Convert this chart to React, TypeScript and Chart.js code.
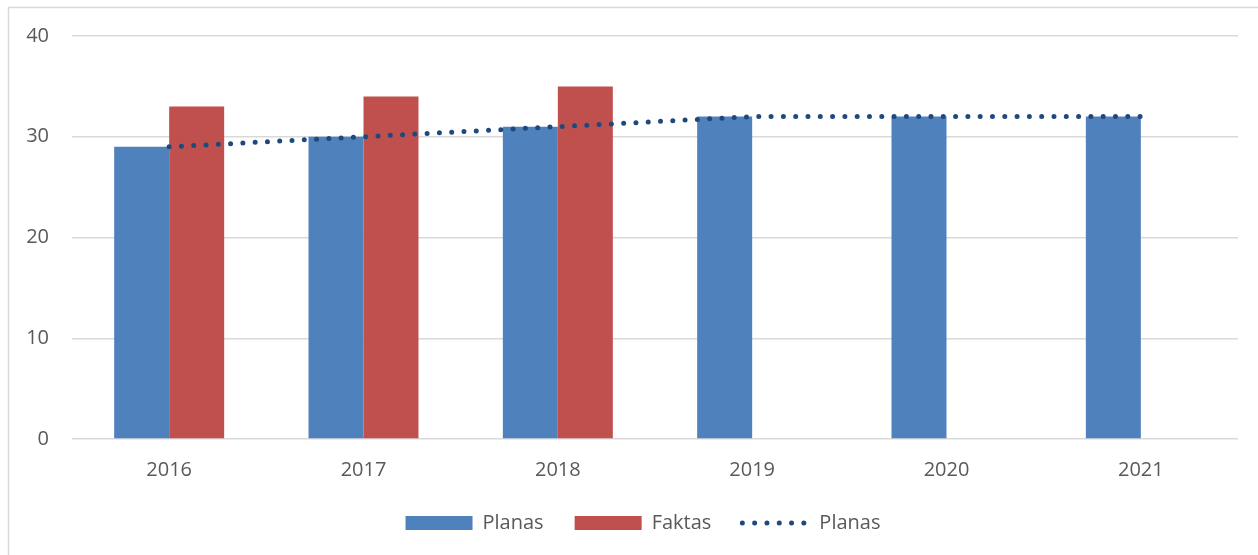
import React, { useEffect, useRef } from "react";
import { Chart, registerables } from "chart.js";

Chart.register(...registerables);

const categories = ["2016", "2017", "2018", "2019", "2020", "2021"];
const planasValues = [29, 30, 31, 32, 32, 32];
const faktasValues = [33, 34, 35, null, null, null];
const planasLineValues = [29, 30, 31, 32, 32, 32];
const yTicks = [0, 10, 20, 30, 40];

const FONT = "'Open Sans', Lato, sans-serif";
const TEXT = "#595959";

const borderPlugin = {
  id: "outerBorder",
  beforeDraw(chart: any) {
    const ctx = chart.ctx;
    ctx.save();
    ctx.fillStyle = "#ffffff";
    ctx.fillRect(0, 0, chart.width, chart.height);
    ctx.strokeStyle = "#D9D9D9";
    ctx.lineWidth = 1.5;
    ctx.beginPath();
    ctx.moveTo(chart.width, 7.5);
    ctx.lineTo(8.5, 7.5);
    ctx.lineTo(8.5, chart.height);
    ctx.stroke();
    ctx.restore();
  },
  afterLayout(chart: any) {
    if (chart.legend) {
      chart.legend.left += 24;
      chart.legend.right += 24;
    }
  },
};

export default function App() {
  const ref = useRef<HTMLCanvasElement | null>(null);
  useEffect(() => {
    if (!ref.current) return;
    const chart = new Chart(ref.current, {
      type: "bar",
      data: {
        labels: categories,
        datasets: [
          {
            type: "bar",
            label: "Planas",
            data: planasValues,
            backgroundColor: "#4F81BD",
            borderWidth: 0,
            order: 1,
          },
          {
            type: "bar",
            label: "Faktas",
            data: faktasValues as any,
            backgroundColor: "#C0504D",
            borderWidth: 0,
            order: 1,
          },
          {
            type: "line",
            label: "Planas",
            data: planasLineValues,
            borderColor: "#1F497D",
            backgroundColor: "#1F497D",
            borderWidth: 5,
            borderDash: [0, 12.3],
            borderCapStyle: "round",
            pointRadius: 0,
            fill: false,
            tension: 0,
            order: 0,
          } as any,
        ],
      },
      options: {
        responsive: false,
        animation: false,
        layout: { padding: { left: 0, right: 20, top: 36, bottom: 12 } },
        datasets: {
          bar: { barPercentage: 1, categoryPercentage: 0.566 },
        } as any,
        scales: {
          x: {
            grid: { display: false },
            border: { display: false },
            ticks: { color: TEXT, font: { family: FONT, size: 20 }, padding: 11 },
            afterFit: (scale: any) => {
              scale.height = 43;
            },
          },
          y: {
            min: 0,
            max: 40,
            afterBuildTicks: (scale: any) => {
              scale.ticks = yTicks.map((v) => ({ value: v }));
            },
            afterFit: (scale: any) => {
              scale.width = 72;
            },
            grid: { color: "#D9D9D9", lineWidth: 1.5, drawTicks: false },
            border: { display: false },
            ticks: { color: TEXT, font: { family: FONT, size: 20 }, padding: 23 },
          },
        },
        plugins: {
          tooltip: { enabled: false },
          legend: {
            position: "bottom",
            labels: {
              color: TEXT,
              font: { family: FONT, size: 20 },
              usePointStyle: true,
              pointStyleWidth: 67,
              boxHeight: 14,
              padding: 31,
              sort: (a: any, b: any) => a.datasetIndex - b.datasetIndex,
              generateLabels: (chart: any) => {
                const items = Chart.defaults.plugins.legend.labels.generateLabels(chart);
                return items.map((it: any) => {
                  if (it.datasetIndex === 2) {
                    return { ...it, pointStyle: "line", lineWidth: 5, lineDash: [0, 12.3], lineCap: "round", strokeStyle: "#1F497D" };
                  }
                  return { ...it, pointStyle: "rect", lineWidth: 0 };
                });
              },
            },
          },
        },
      } as any,
      plugins: [borderPlugin],
    });
    return () => chart.destroy();
  }, []);
  return (
    <div style={{ position: "absolute", left: 0, top: 0, width: 1258, height: 555 }}>
      <canvas ref={ref} width={1258} height={555} style={{ width: 1258, height: 555, display: "block" }} />
    </div>
  );
}
